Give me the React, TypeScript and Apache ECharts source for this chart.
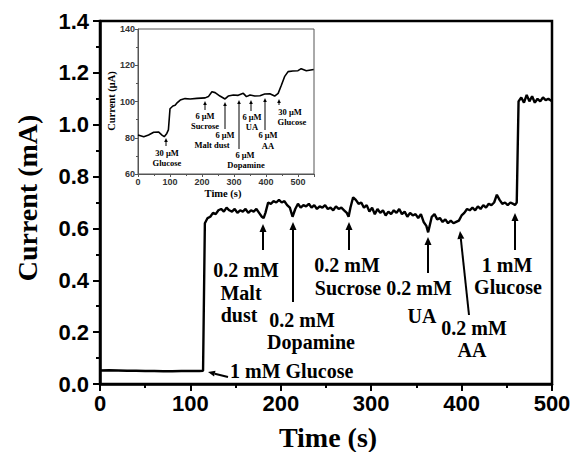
import React, { useEffect, useRef } from "react";
import * as echarts from "echarts";

// Main amperometric trace: time (s) and current (mA)
const mainTime = [0,10,20,30,40,50,60,70,80,90,100,110,114,116,119,122,125,128,131,134,137,140,143,146,149,152,155,158,161,164,167,170,173,176,179,181,183,186,189,192,195,198,201,204,207,210,213,216,219,222,225,228,231,234,237,240,243,246,249,252,255,258,261,264,267,270,273,275,277,280,283,286,289,292,295,298,301,304,307,310,313,316,319,322,325,328,331,334,337,340,343,346,349,352,355,358,361,363,365,367,370,373,376,379,382,385,388,391,394,397,400,403,406,409,412,415,418,421,424,427,430,433,436,439,442,445,448,451,454,457,459,461,463,466,469,472,475,478,481,484,487,490,493,496,500];
const mainCurrent = [0.052,0.053,0.052,0.051,0.051,0.050,0.050,0.049,0.049,0.050,0.050,0.050,0.051,0.62,0.64,0.645,0.66,0.655,0.67,0.675,0.665,0.68,0.67,0.665,0.675,0.66,0.67,0.665,0.675,0.66,0.67,0.665,0.675,0.66,0.645,0.64,0.66,0.70,0.695,0.705,0.70,0.71,0.70,0.705,0.69,0.68,0.645,0.675,0.695,0.68,0.69,0.685,0.695,0.68,0.69,0.675,0.685,0.68,0.69,0.675,0.68,0.67,0.685,0.675,0.68,0.67,0.66,0.645,0.68,0.72,0.71,0.695,0.70,0.68,0.69,0.665,0.68,0.655,0.675,0.66,0.67,0.65,0.665,0.655,0.67,0.66,0.675,0.655,0.665,0.645,0.66,0.65,0.655,0.64,0.655,0.625,0.61,0.585,0.615,0.645,0.655,0.635,0.64,0.625,0.635,0.62,0.63,0.62,0.625,0.63,0.65,0.66,0.675,0.67,0.68,0.67,0.685,0.675,0.69,0.68,0.695,0.69,0.70,0.73,0.71,0.695,0.70,0.69,0.70,0.695,0.69,0.70,1.09,1.105,1.085,1.115,1.09,1.11,1.085,1.10,1.09,1.105,1.095,1.10,1.09];

// Inset trace: time (s) and current (µA)
const insetTime = [0,18,33,49,64,75,82,90,95,100,109,116,123,132,147,163,184,210,220,231,241,256,272,282,298,313,329,339,350,365,381,396,412,427,438,448,458,469,484,500,510,526,549];
const insetCurrent = [81.5,80.6,81.5,83,83.2,81.5,80.6,82.4,84.3,96,97.5,97.9,99.4,100.8,101.6,101.4,101.7,102,102.7,105.4,104.9,103,101.4,103,103.6,103.4,104.5,102.7,103.6,103,103.2,104.1,104.3,103,104.5,109,113.7,116.5,116.8,117,118.1,117,117.7];

const mainYTicks = [0, 0.2, 0.4, 0.6, 0.8, 1.0, 1.2, 1.4];
const mainXTicks = [0, 100, 200, 300, 400, 500];
const insetYTicks = [60, 80, 100, 120, 140];

const SERIF = "'Liberation Serif', 'DejaVu Serif', serif";
const SANS = "'Liberation Sans', Arial, sans-serif";

function arrow(x1: number, y1: number, x2: number, y2: number, lw: number, hl: number, hw: number) {
  const dx = x2 - x1, dy = y2 - y1;
  const L = Math.hypot(dx, dy);
  const ux = dx / L, uy = dy / L;
  const bx = x2 - ux * hl, by = y2 - uy * hl;
  const px = -uy, py = ux;
  return [
    { type: "line", z: 100, shape: { x1, y1, x2: bx, y2: by }, style: { stroke: "#000", lineWidth: lw } },
    {
      type: "polygon", z: 100,
      shape: { points: [[x2, y2], [bx + px * hw, by + py * hw], [bx - px * hw, by - py * hw]] },
      style: { fill: "#000" },
    },
  ];
}

function label(text: string, x: number, y: number, size: number, align: string = "center") {
  return {
    type: "text", z: 100, x, y,
    style: {
      text, fill: "#000", font: `bold ${size}px ${SERIF}`,
      textAlign: align, textVerticalAlign: "middle", align, verticalAlign: "middle",
    },
  };
}

export default function App() {
  const ref = useRef<HTMLDivElement>(null);
  useEffect(() => {
    if (!ref.current) return;
    const chart = echarts.init(ref.current, undefined, { renderer: "svg" });
    const M = 20;
    const S = 8.5;
    const graphics: any[] = [
      // axis titles
      label("Time (s)", 328, 437, 28),
      { ...label("Current (mA)", 27, 198, 28), rotation: Math.PI / 2 },
      { ...label("Current (μA)", 111, 101, 10.5), rotation: Math.PI / 2 },
      label("Time (s)", 223, 193, 10.5),
      // main annotations
      ...arrow(263, 250, 263, 224, 2, 8, 3.5),
      label("0.2 mM", 246, 270, M), label("Malt", 241, 293, M), label("dust", 239, 315, M),
      ...arrow(293, 302, 293, 222, 2, 8, 3.5),
      label("0.2 mM", 302, 320, M), label("Dopamine", 311, 342, M),
      ...arrow(349, 250, 349, 222, 2, 8, 3.5),
      label("0.2 mM", 347, 265, M), label("Sucrose", 348, 288, M),
      ...arrow(428, 273, 428, 237, 2, 8, 3.5),
      label("0.2 mM", 419, 288, M), label("UA", 422, 316, M),
      ...arrow(469, 315, 460, 231, 2, 8, 3.5),
      label("0.2 mM", 474, 328, M), label("AA", 472, 350, M),
      ...arrow(515, 250, 515, 213, 2, 8, 3.5),
      label("1 mM", 507, 265, M), label("Glucose", 508, 287, M),
      ...arrow(228, 377, 208, 372, 2, 7, 3),
      label("1 mM Glucose", 230, 371, M, "left"),
      // inset annotations
      ...arrow(166, 146, 166, 138, 1, 4, 1.8),
      label("30 μM", 167, 153, S), label("Glucose", 167, 163, S),
      ...arrow(205, 110, 205, 101, 1, 4, 1.8),
      label("6 μM", 205, 115.5, S), label("Sucrose", 205, 125.5, S),
      ...arrow(225, 129, 225, 102, 1, 4, 1.8),
      label("6 μM", 225, 135, S), label("Malt dust", 212, 145, S),
      ...arrow(239, 149, 239, 100, 1, 4, 1.8),
      label("6 μM", 245, 154.5, S), label("Dopamine", 246, 164.5, S),
      ...arrow(251, 111, 251, 100, 1, 4, 1.8),
      label("6 μM", 252, 117, S), label("UA", 252, 127, S),
      ...arrow(265, 130, 265, 98, 1, 4, 1.8),
      label("6 μM", 268, 135, S), label("AA", 268, 145.5, S),
      ...arrow(279, 105, 279, 99, 1, 4, 1.8),
      label("30 μM", 290, 111.5, S), label("Glucose", 292, 121.5, S),
    ];

    chart.setOption({
      animation: false,
      backgroundColor: "#fff",
      grid: [
        { left: 100, right: 19, top: 21, bottom: 68, show: true, borderColor: "#000", borderWidth: 2.5, outerBoundsMode: "none" },
        { left: 138, right: 257, top: 29, bottom: 278, show: true, borderColor: "#555", borderWidth: 1, backgroundColor: "#fff", outerBoundsMode: "none", z: 10 },
      ],
      xAxis: [
        {
          type: "value", gridIndex: 0, min: mainXTicks[0], max: mainXTicks[mainXTicks.length - 1], interval: 100,
          axisLine: { lineStyle: { color: "#000", width: 2.5 } },
          axisTick: { show: true, length: 7, inside: false, lineStyle: { color: "#000", width: 2 } },
          minorTick: { show: true, splitNumber: 2, length: 4, lineStyle: { color: "#000", width: 2 } },
          splitLine: { show: false },
          axisLabel: { color: "#000", fontFamily: SANS, fontWeight: "bold", fontSize: 22, margin: 8 },
        },
        {
          type: "value", gridIndex: 1, min: 0, max: 550, interval: 100, z: 11,
          axisLine: { lineStyle: { color: "#555", width: 1 } },
          axisTick: { show: true, length: 3, lineStyle: { color: "#555", width: 1 } },
          minorTick: { show: true, splitNumber: 2, length: 2, lineStyle: { color: "#555", width: 1 } },
          splitLine: { show: false },
          axisLabel: {
            color: "#333", fontFamily: SANS, fontWeight: "bold", fontSize: 9, margin: 3,
            formatter: (v: number) => (v <= 500 ? String(v) : ""),
          },
        },
      ],
      yAxis: [
        {
          type: "value", gridIndex: 0, min: mainYTicks[0], max: mainYTicks[mainYTicks.length - 1], interval: 0.2,
          axisLine: { show: true, lineStyle: { color: "#000", width: 2.5 } },
          axisTick: { show: true, length: 7, lineStyle: { color: "#000", width: 2 } },
          minorTick: { show: true, splitNumber: 2, length: 4, lineStyle: { color: "#000", width: 2 } },
          splitLine: { show: false },
          axisLabel: { color: "#000", fontFamily: SANS, fontWeight: "bold", fontSize: 22, margin: 11, formatter: (v: number) => v.toFixed(1) },
        },
        {
          type: "value", gridIndex: 1, min: insetYTicks[0], max: insetYTicks[insetYTicks.length - 1], interval: 20, z: 11,
          axisLine: { show: true, lineStyle: { color: "#555", width: 1 } },
          axisTick: { show: true, length: 3, lineStyle: { color: "#555", width: 1 } },
          minorTick: { show: true, splitNumber: 2, length: 2, lineStyle: { color: "#555", width: 1 } },
          splitLine: { show: false },
          axisLabel: { color: "#333", fontFamily: SANS, fontWeight: "bold", fontSize: 9, margin: 3 },
        },
      ],
      series: [
        {
          type: "line", xAxisIndex: 0, yAxisIndex: 0, showSymbol: false, symbol: "none",
          data: mainTime.map((t, i) => [t, mainCurrent[i]]),
          lineStyle: { color: "#000", width: 2.4 },
        },
        {
          type: "line", xAxisIndex: 1, yAxisIndex: 1, showSymbol: false, symbol: "none", z: 12,
          data: insetTime.map((t, i) => [t, insetCurrent[i]]),
          lineStyle: { color: "#000", width: 1.6 },
        },
      ],
      graphic: graphics,
    });
    return () => chart.dispose();
  }, []);
  return <div ref={ref} style={{ position: "fixed", left: 0, top: 0, width: 571, height: 452 }} />;
}
